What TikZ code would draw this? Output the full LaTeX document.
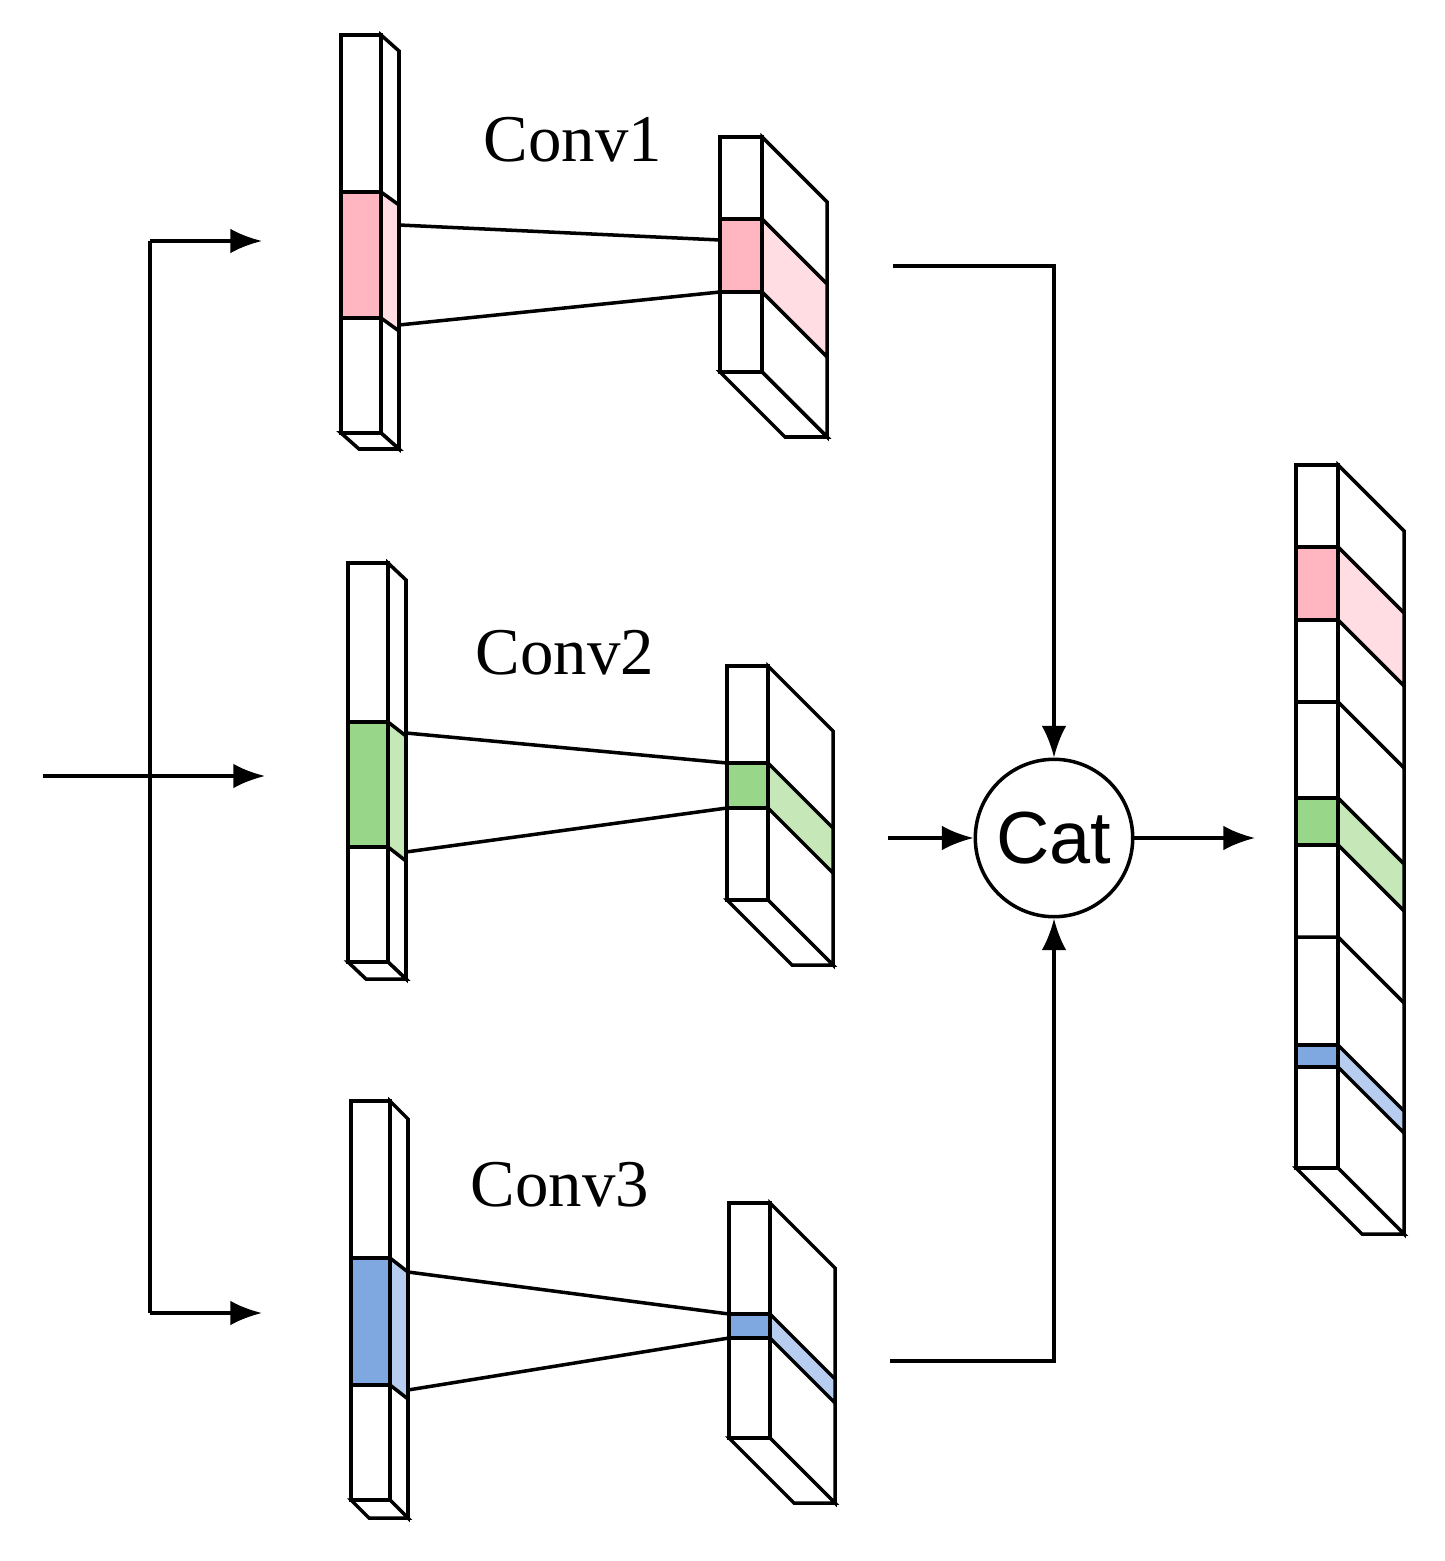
\documentclass[tikz,border=0pt]{standalone}
\usepackage{fontspec}
\setmainfont{Liberation Serif}
\newfontfamily\sansf{Liberation Sans}
\usetikzlibrary{positioning, arrows.meta}
\definecolor{pinkD}{HTML}{FFB6C1}
\definecolor{pinkL}{HTML}{FFDDE2}
\definecolor{greenD}{HTML}{98D68A}
\definecolor{greenL}{HTML}{C6E8B8}
\definecolor{blueD}{HTML}{80A8E0}
\definecolor{blueL}{HTML}{B6CDF0}
\tikzset{edge/.style={line width=1pt},
         flow/.style={line width=1pt, -{Latex[length=9pt,width=7pt]}},
         lbl/.style={font=\fontsize{19}{22}\selectfont},
        }
% feature map: x, y, w, h, dx, dy
\newcommand{\fmap}[6]{%
  \draw[edge, fill=white] (#1,#2) rectangle ++(#3,#4);
  \draw[edge, fill=white] (#1+#3,#2) -- ++(#5,#6) -- ++(0,#4) -- (#1+#3,#2+#4) -- cycle;
  \draw[edge, fill=white] (#1,#2+#4) -- ++(#3,0) -- ++(#5,#6) -- ++(-#3,0) -- cycle;}
% band: x, y1, y2, w, dx, dy, dark, light
\newcommand{\band}[8]{%
  \draw[edge, fill=#7] (#1,#2) rectangle (#1+#4,#3);
  \draw[edge, fill=#8] (#1+#4,#2) -- ++(#5,#6) -- (#1+#4+#5,#3+#6) -- (#1+#4,#3) -- cycle;}
\newcommand{\cut}[5]{\draw[edge] (#1,#2) -- ++(#3,0) -- ++(#4,#5);}
\begin{document}
\begin{tikzpicture}[x=0.01cm, y=-0.01cm]
  \useasboundingbox (0,0) rectangle (1444,1561);

  % branch 1
  \fmap{341}{35}{40}{398}{18}{16}
  \band{341}{192}{318}{40}{18}{13}{pinkD}{pinkL}
  \fmap{720}{137}{42}{235}{65}{65}
  \band{720}{219}{292}{42}{65}{65}{pinkD}{pinkL}
  \coordinate (a1) at (399,225); \coordinate (b1) at (720,240);
  \coordinate (a2) at (399,325); \coordinate (b2) at (720,292);
  \draw[edge] (a1) -- (b1); \draw[edge] (a2) -- (b2);
  \node[lbl] (conv1) at (573,140) {Conv1};

  % branch 2
  \fmap{348}{563}{40}{399}{18}{17}
  \band{348}{722}{847}{40}{18}{14}{greenD}{greenL}
  \fmap{727}{666}{41}{234}{65}{65}
  \band{727}{763}{808}{41}{65}{65}{greenD}{greenL}
  \coordinate (c1) at (406,733); \coordinate (d1) at (727,763);
  \coordinate (c2) at (406,852); \coordinate (d2) at (727,808);
  \draw[edge] (c1) -- (d1); \draw[edge] (c2) -- (d2);
  \node[lbl] (conv2) at (565,653) {Conv2};

  % branch 3
  \fmap{351}{1101}{39}{399}{18}{18}
  \band{351}{1258}{1385}{39}{18}{14}{blueD}{blueL}
  \fmap{729}{1203}{41}{235}{65}{65}
  \band{729}{1314}{1338}{41}{65}{65}{blueD}{blueL}
  \coordinate (e1) at (408,1272); \coordinate (f1) at (729,1314);
  \coordinate (e2) at (408,1390); \coordinate (f2) at (729,1338);
  \draw[edge] (e1) -- (f1); \draw[edge] (e2) -- (f2);
  \node[lbl] (conv3) at (560,1185) {Conv3};

  % output
  \fmap{1296}{465}{42}{703}{66}{66}
  \band{1296}{547}{620}{42}{66}{66}{pinkD}{pinkL}
  \cut{1296}{702}{42}{66}{66}
  \band{1296}{798}{845}{42}{66}{66}{greenD}{greenL}
  \cut{1296}{937}{42}{66}{66}
  \band{1296}{1045}{1067}{42}{66}{66}{blueD}{blueL}

  % flow
  \node[draw, edge, circle, minimum size=1.3cm, font=\sansf\fontsize{21}{24}\selectfont] (cat) at (1054,838) {Cat};
  \coordinate (in) at (43,776); \coordinate (i2) at (265,776);
  \coordinate (s1) at (150,241); \coordinate (s3) at (150,1313);
  \coordinate (t1) at (262,241); \coordinate (t3) at (262,1313);
  \draw[flow] (in) -- (i2);
  \draw[edge] (s1) -- (s3);
  \draw[flow] (s1) -- (t1);
  \draw[flow] (s3) -- (t3);
  \coordinate (o1) at (893,266); \coordinate (o2) at (888,838); \coordinate (o3) at (890,1361);
  \draw[flow] (o1) -| (cat.north);
  \draw[flow] (o2) -- (cat.west);
  \draw[flow] (o3) -| (cat.south);
  \coordinate (out) at (1255,838);
  \draw[flow] (cat.east) -- (out);
\end{tikzpicture}
\end{document}
